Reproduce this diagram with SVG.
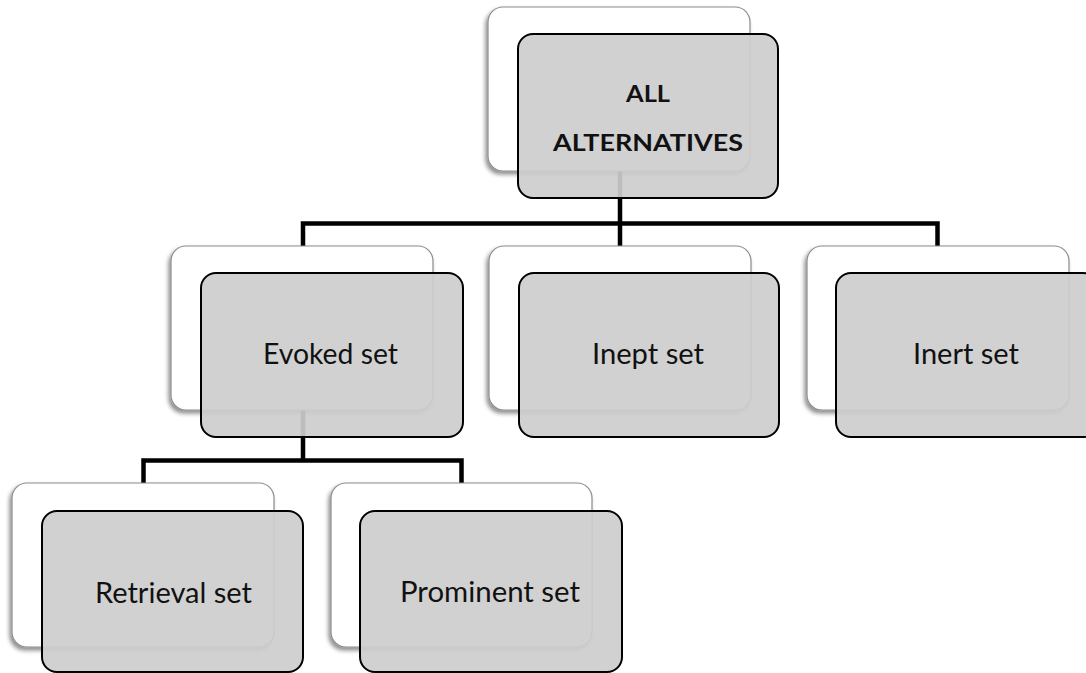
<svg xmlns="http://www.w3.org/2000/svg" width="1086" height="673" viewBox="0 0 1086 673">
  <defs>
    <filter id="backShadow" x="-10%" y="-10%" width="120%" height="125%">
      <feDropShadow dx="-2" dy="3" stdDeviation="2" flood-color="#000" flood-opacity="0.45"/>
    </filter>
  </defs>
  <style>
    .back { fill: #ffffff; stroke: #8c8c8c; stroke-width: 1.2; filter: url(#backShadow); }
    .front { fill: #cdcdcd; fill-opacity: 0.92; stroke: #000; stroke-width: 2; }
    .label { font-family: "Lato", "Liberation Sans", sans-serif; font-size: 28px; fill: #111; text-anchor: middle; }
    .title { font-family: "Lato", "Liberation Sans", sans-serif; font-size: 22px; font-weight: bold; fill: #111; text-anchor: middle; }
    .link { fill: none; stroke: #000; stroke-width: 4.5; stroke-linejoin: miter; }
  </style>
  <rect width="1086" height="673" fill="#fff"/>

  <!-- connectors sit beneath the cards -->
  <g id="connectors">
    <path class="link" d="M620,160 V223.5 M303,246 V223.5 H937.5 V246 M620,223.5 V246"/>
    <path class="link" d="M303,400 V460.5 M143.5,483 V460.5 H461.5 V483"/>
  </g>

  <g id="node-all" transform="translate(488,7)">
    <rect class="back" x="0" y="0" width="262" height="164" rx="15"/>
    <rect class="front" x="30" y="27" width="260" height="164" rx="15"/>
    <text class="title" x="160" y="95" textLength="44" lengthAdjust="spacingAndGlyphs">ALL</text>
    <text class="title" x="160" y="144" textLength="190" lengthAdjust="spacingAndGlyphs">ALTERNATIVES</text>
  </g>

  <g id="node-evoked" transform="translate(171,246)">
    <rect class="back" x="0" y="0" width="262" height="164" rx="15"/>
    <rect class="front" x="30" y="27" width="262" height="164" rx="15"/>
    <text class="label" x="159.5" y="118" textLength="135" lengthAdjust="spacingAndGlyphs">Evoked set</text>
  </g>

  <g id="node-inept" transform="translate(489,246)">
    <rect class="back" x="0" y="0" width="262" height="164" rx="15"/>
    <rect class="front" x="30" y="27" width="260" height="164" rx="15"/>
    <text class="label" x="159" y="118" textLength="112" lengthAdjust="spacingAndGlyphs">Inept set</text>
  </g>

  <g id="node-inert" transform="translate(807,246)">
    <rect class="back" x="0" y="0" width="262" height="164" rx="15"/>
    <rect class="front" x="29" y="27" width="262" height="164" rx="15"/>
    <text class="label" x="159" y="118" textLength="106" lengthAdjust="spacingAndGlyphs">Inert set</text>
  </g>

  <g id="node-retrieval" transform="translate(12,483)">
    <rect class="back" x="0" y="0" width="262" height="164" rx="15"/>
    <rect class="front" x="30" y="28" width="261" height="161" rx="15"/>
    <text class="label" x="161.5" y="120" textLength="157" lengthAdjust="spacingAndGlyphs">Retrieval set</text>
  </g>

  <g id="node-prominent" transform="translate(331,483)">
    <rect class="back" x="0" y="0" width="261" height="164" rx="15"/>
    <rect class="front" x="29" y="28" width="262" height="161" rx="15"/>
    <text class="label" x="159" y="119" textLength="180" lengthAdjust="spacingAndGlyphs">Prominent set</text>
  </g>
</svg>
